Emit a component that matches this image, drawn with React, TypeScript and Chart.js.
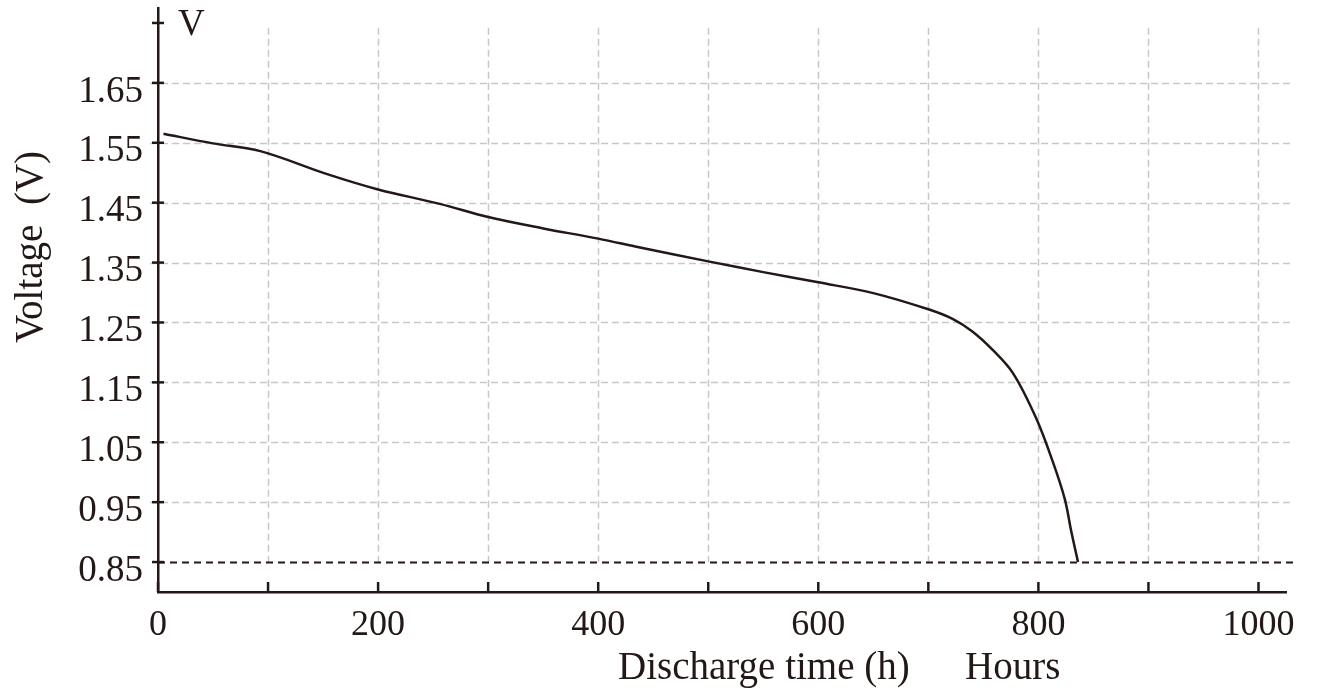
import { useEffect, useRef } from 'react';
import { Chart, registerables } from 'chart.js';

Chart.register(...registerables);

// ---- data ----
const hours = [5, 50, 93, 153, 200, 256, 300, 350, 400, 438, 500, 550, 600, 650, 700, 722, 740, 758, 777, 798, 813, 824, 830, 836];
const voltage = [1.565, 1.549, 1.536, 1.498, 1.472, 1.448, 1.426, 1.407, 1.39, 1.375, 1.352, 1.334, 1.317, 1.299, 1.272, 1.256, 1.235, 1.205, 1.165, 1.09, 1.018, 0.955, 0.9, 0.85];

const xTickValues = [0, 100, 200, 300, 400, 500, 600, 700, 800, 900, 1000];
const xTickLabels = ['0', '', '200', '', '400', '', '600', '', '800', '', '1000'];
const yTickValues = [0.85, 0.95, 1.05, 1.15, 1.25, 1.35, 1.45, 1.55, 1.65, 1.75];
const yTickLabels = ['0.85', '0.95', '1.05', '1.15', '1.25', '1.35', '1.45', '1.55', '1.65', ''];
const yGridValues = [0.95, 1.05, 1.15, 1.25, 1.35, 1.45, 1.55, 1.65];
const xGridValues = [100, 200, 300, 400, 500, 600, 700, 800, 900, 1000];
const cutoffVoltage = 0.85;
const gridTopVoltage = 1.742;

const yTitle = 'Voltage  (V)';
const xTitle = 'Discharge time (h)';
const xUnit = 'Hours';
const yUnit = 'V';

const INK = '#231815';
const GRID = '#c8c8c8';
const FONT = "'Liberation Serif', 'Times New Roman', serif";

const decorPlugin = {
  id: 'decor',
  beforeDatasetsDraw(chart: any) {
    const { ctx, scales } = chart;
    const x = scales.x;
    const y = scales.y;
    ctx.save();
    ctx.strokeStyle = GRID;
    ctx.lineWidth = 1.5;
    ctx.setLineDash([7, 4]);
    yGridValues.forEach((v) => {
      const py = Math.round(y.getPixelForValue(v)) + 0.5;
      ctx.beginPath();
      ctx.moveTo(x.left - 8, py);
      ctx.lineTo(x.right + 4, py);
      ctx.stroke();
    });
    const top = y.getPixelForValue(gridTopVoltage);
    const bot = y.getPixelForValue(cutoffVoltage);
    xGridValues.forEach((v) => {
      const px = Math.round(x.getPixelForValue(v)) + 0.5;
      ctx.beginPath();
      ctx.moveTo(px, top);
      ctx.lineTo(px, bot);
      ctx.stroke();
    });
    ctx.strokeStyle = INK;
    ctx.lineWidth = 2;
    ctx.setLineDash([7, 5]);
    const cy = Math.round(bot) + 0.5;
    ctx.beginPath();
    ctx.moveTo(x.left, cy);
    ctx.lineTo(x.right + 12, cy);
    ctx.stroke();
    ctx.restore();
  },
  afterDraw(chart: any) {
    const { ctx, scales } = chart;
    const x = scales.x;
    const y = scales.y;
    ctx.save();
    ctx.strokeStyle = INK;
    ctx.lineWidth = 2.5;
    ctx.setLineDash([]);
    yTickValues.forEach((v) => {
      const py = y.getPixelForValue(v);
      ctx.beginPath();
      ctx.moveTo(x.left - 6, py);
      ctx.lineTo(x.left + 6, py);
      ctx.stroke();
    });
    xTickValues.forEach((v) => {
      const px = x.getPixelForValue(v);
      ctx.beginPath();
      ctx.moveTo(px, y.bottom);
      ctx.lineTo(px, y.bottom - 10);
      ctx.stroke();
    });
    ctx.fillStyle = INK;
    ctx.font = `37px ${FONT}`;
    ctx.textAlign = 'left';
    ctx.textBaseline = 'alphabetic';
    ctx.fillText(yUnit, x.left + 20, 35);
    ctx.font = `39px ${FONT}`;
    ctx.fillText(xTitle, 618, 679);
    ctx.fillText(xUnit, 965, 679);
    ctx.save();
    ctx.translate(42, 247);
    ctx.rotate(-Math.PI / 2);
    ctx.textAlign = 'center';
    ctx.font = `39px ${FONT}`;
    ctx.fillText(yTitle, 0, 0);
    ctx.restore();
    ctx.restore();
  },
};

export default function App() {
  const ref = useRef<HTMLCanvasElement | null>(null);
  useEffect(() => {
    if (!ref.current) return;
    const chart = new Chart(ref.current, {
      type: 'line',
      data: {
        datasets: [
          {
            data: hours.map((h, i) => ({ x: h, y: voltage[i] })),
            borderColor: INK,
            borderWidth: 2.5,
            pointRadius: 0,
            fill: false,
            tension: 0.35,
          },
        ],
      },
      options: {
        animation: false,
        responsive: false,
        events: [],
        layout: { padding: { left: 0, right: 51, top: 8, bottom: 0 } },
        plugins: { legend: { display: false }, tooltip: { enabled: false } },
        scales: {
          x: {
            type: 'linear',
            min: 0,
            max: 1025,
            afterBuildTicks: (s: any) => {
              s.ticks = xTickValues.map((v) => ({ value: v }));
            },
            afterFit: (s: any) => {
              s.height = 98;
              s.paddingLeft = 0;
              s.paddingRight = 0;
            },
            grid: { display: false, drawTicks: false },
            border: { display: true, color: INK, width: 2.5 },
            ticks: {
              autoSkip: false,
              maxRotation: 0,
              padding: 12,
              color: INK,
              font: { family: FONT, size: 36 },
              callback: (_v: any, i: number) => xTickLabels[i],
            },
          },
          y: {
            type: 'linear',
            min: 0.8,
            max: 1.775,
            afterBuildTicks: (s: any) => {
              s.ticks = yTickValues.map((v) => ({ value: v }));
            },
            afterFit: (s: any) => {
              s.width = 158;
              s.paddingTop = 0;
              s.paddingBottom = 0;
            },
            grid: { display: false, drawTicks: false },
            border: { display: true, color: INK, width: 2.5 },
            ticks: {
              autoSkip: false,
              padding: 15,
              labelOffset: 9,
              color: INK,
              font: { family: FONT, size: 37 },
              callback: (_v: any, i: number) => yTickLabels[i],
            },
          },
        },
      },
      plugins: [decorPlugin],
    });
    return () => chart.destroy();
  }, []);
  return (
    <div style={{ position: 'absolute', left: 0, top: 0, width: 1337, height: 690, background: '#fff' }}>
      <canvas ref={ref} width={1337} height={690} />
    </div>
  );
}
